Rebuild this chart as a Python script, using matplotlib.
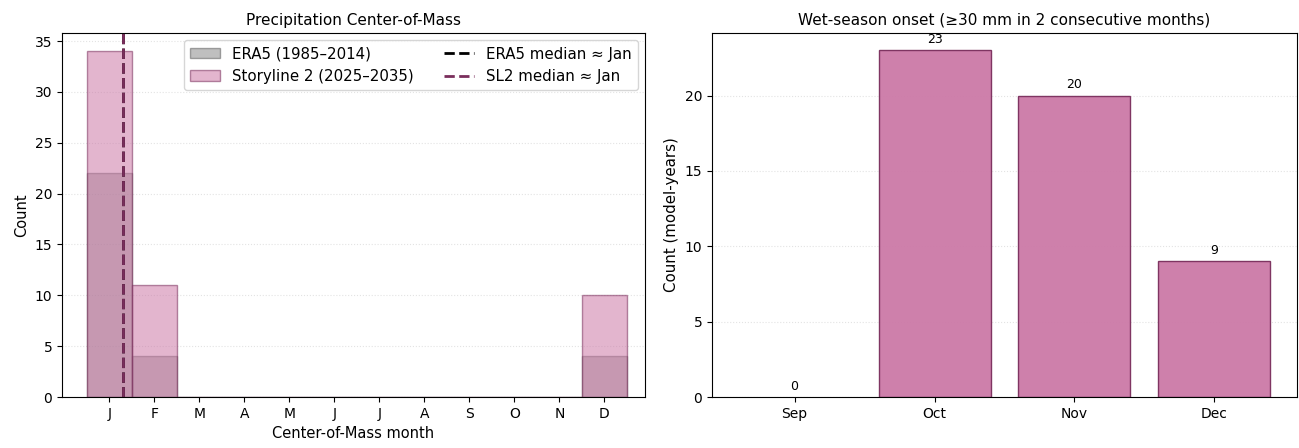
import numpy as np
import matplotlib
matplotlib.use("Agg")
import matplotlib.pyplot as plt

# Datos
meses = np.arange(1, 13)
etiquetas_meses = ["J", "F", "M", "A", "M", "J", "J", "A", "S", "O", "N", "D"]
era5_counts = [22, 4, 0, 0, 0, 0, 0, 0, 0, 0, 0, 4]
sl2_counts = [34, 11, 0, 0, 0, 0, 0, 0, 0, 0, 0, 10]
era5_median = 1.3
sl2_median = 1.3

onset_months = ["Sep", "Oct", "Nov", "Dec"]
onset_counts = [0, 23, 20, 9]

rosa = "#CC79A7"
morado = "#7a2e5c"

fig = plt.figure(figsize=(12.99, 4.48), dpi=100)
ax1 = fig.add_axes([62 / 1299, 51 / 448, 583 / 1299, 364 / 448])
ax2 = fig.add_axes([712 / 1299, 51 / 448, 585 / 1299, 364 / 448])

# Panel izquierdo: histograma del centro de masa
h1 = ax1.bar(meses, era5_counts, width=1.0, color="gray", alpha=0.5,
             edgecolor="#555555", linewidth=1, label="ERA5 (1985–2014)")
h2 = ax1.bar(meses, sl2_counts, width=1.0, color=rosa, alpha=0.55,
             edgecolor=morado, linewidth=1, label="Storyline 2 (2025–2035)")
l1 = ax1.axvline(era5_median, color="black", ls="--", lw=2, label="ERA5 median ≈ Jan")
l2 = ax1.axvline(sl2_median, color=morado, ls="--", lw=2, label="SL2 median ≈ Jan")
ax1.set_xticks(meses)
ax1.set_xticklabels(etiquetas_meses)
ax1.set_xlim(-0.05, 12.9)
ax1.set_ylim(0, max(sl2_counts) * 1.053)
ax1.set_xlabel("Center-of-Mass month", fontsize=10.5)
ax1.set_ylabel("Count", fontsize=10.5)
ax1.set_title("Precipitation Center-of-Mass", fontsize=11)
ax1.tick_params(labelsize=10)
ax1.grid(axis="y", ls=":", alpha=0.35)
ax1.set_axisbelow(True)
ax1.legend(handles=[h1, h2, l1, l2], ncol=2, loc="upper right", fontsize=10.8)

# Panel derecho: inicio de la temporada húmeda
x = np.arange(len(onset_months))
anchos = [0 if v == 0 else 1 for v in onset_counts]
barras = ax2.bar(x, onset_counts, width=0.8, color=rosa, alpha=0.95,
                 edgecolor=morado, linewidth=anchos)
for b, v in zip(barras, onset_counts):
    ax2.annotate(str(v), (b.get_x() + b.get_width() / 2, v),
                 xytext=(0, 3), textcoords="offset points",
                 ha="center", va="bottom", fontsize=9)
ax2.set_xticks(x)
ax2.set_xticklabels(onset_months)
ax2.set_ylim(0, max(onset_counts) * 1.05)
ax2.set_ylabel("Count (model-years)", fontsize=10.8)
ax2.set_title("Wet-season onset (≥30 mm in 2 consecutive months)", fontsize=11)
ax2.tick_params(labelsize=10)
ax2.grid(axis="y", ls=":", alpha=0.35)
ax2.set_axisbelow(True)

plt.savefig("out.png", dpi=100)
